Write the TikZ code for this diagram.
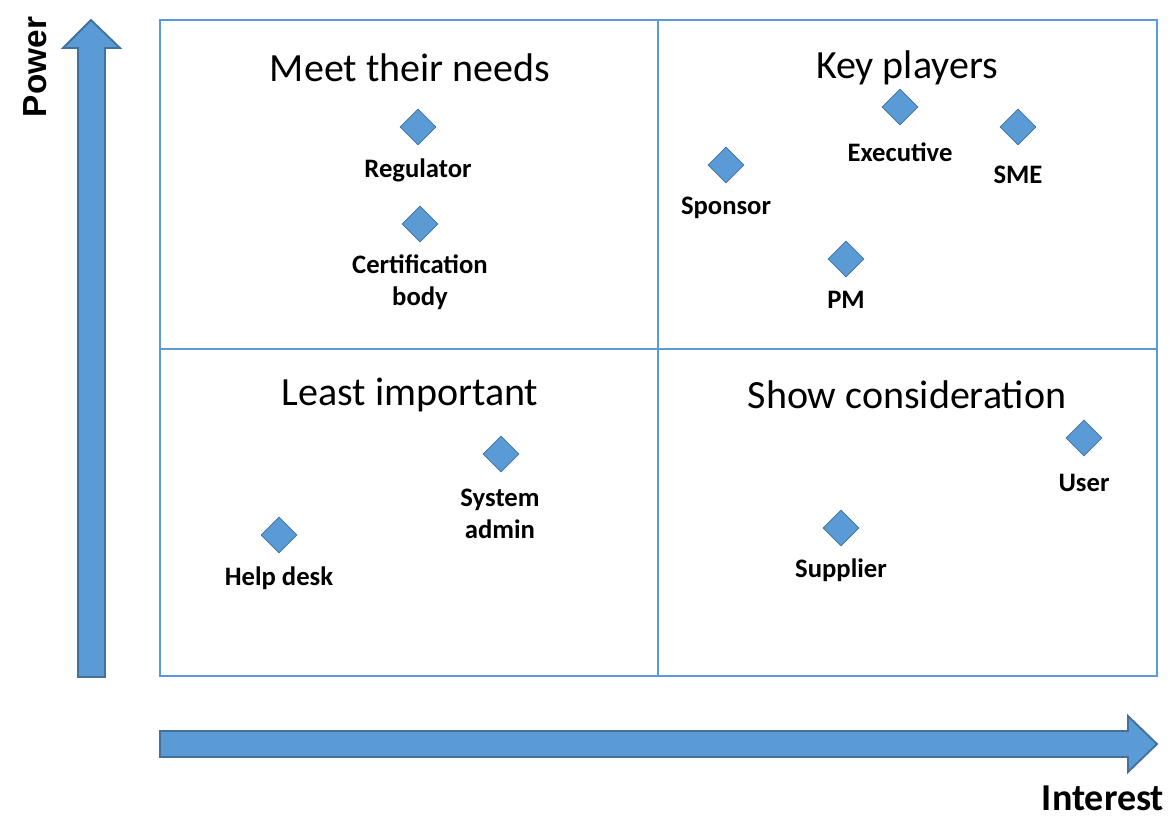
\documentclass[tikz,border=0pt]{standalone}
\usepackage{fontspec}
\setmainfont{Carlito}
\newfontfamily\arialfont{Liberation Sans}
\usetikzlibrary{shapes.geometric}
\definecolor{gridblue}{HTML}{5B9BD5}
\definecolor{fillblue}{HTML}{5B9BD5}
\definecolor{edgeblue}{HTML}{41719C}
\tikzset{
  quadline/.style={draw=gridblue, line width=1.6pt},
  bigarrow/.style={fill=fillblue, draw=edgeblue, line width=1.4pt, line join=miter},
  gem/.style={diamond, fill=fillblue, draw=edgeblue, line width=0.5pt, minimum width=27pt, minimum height=27pt, inner sep=0pt},
  gemlabel/.style={font=\fontsize{20}{24}\selectfont\bfseries, align=center, inner sep=0pt},
  quadtitle/.style={font=\fontsize{30}{35}\selectfont, inner sep=0pt},
}
\begin{document}
\begin{tikzpicture}[x=0.75pt, y=-0.75pt]
\useasboundingbox (0,0) rectangle (1176,819);
% axes arrows
\draw[bigarrow] (78,677) -- (78,48) -- (63,48) -- (91,20) -- (120,48) -- (105,48) -- (105,677) -- cycle;
\draw[bigarrow] (160,731) -- (1128,731) -- (1128,716) -- (1157,744) -- (1128,772) -- (1128,757) -- (160,757) -- cycle;
\node[font=\arialfont\fontsize{25}{28}\selectfont\bfseries, rotate=90, inner sep=0pt] (power) at (35,67) {Power};
\node[font=\fontsize{28.5}{32}\selectfont\bfseries, inner sep=0pt] (interest) at (1103,798) {Interest};
% grid
\draw[quadline] (160,20) rectangle (1157,676);
\draw[quadline] (658,20) -- (658,676);
\draw[quadline] (160,349) -- (1157,349);
% titles
\node[quadtitle] (t1) at (410,68) {Meet their needs};
\node[quadtitle] (t2) at (907,68) {Key players};
\node[quadtitle] (t3) at (410,395) {Least important};
\node[quadtitle] (t4) at (907,395) {Show consideration};
% stakeholders
\node[gem] (reg) at (418,127) {};
\node[gemlabel] (regl) at (418,170) {Regulator};
\node[gem] (cert) at (420,224) {};
\node[gemlabel] (certl) at (420,282) {Certification\\body};
\node[gem] (exe) at (900,107) {};
\node[gemlabel] (exel) at (900,152) {Executive};
\node[gem] (sme) at (1018,127) {};
\node[gemlabel] (smel) at (1018,175) {SME};
\node[gem] (spo) at (726,165) {};
\node[gemlabel] (spol) at (726,208) {Sponsor};
\node[gem] (pm) at (846,259) {};
\node[gemlabel] (pml) at (846,300) {PM};
\node[gem] (sys) at (501,454) {};
\node[gemlabel] (sysl) at (500,514) {System\\admin};
\node[gem] (help) at (279,535) {};
\node[gemlabel] (helpl) at (279,578) {Help desk};
\node[gem] (user) at (1084,438) {};
\node[gemlabel] (userl) at (1084,483) {User};
\node[gem] (sup) at (841,528) {};
\node[gemlabel] (supl) at (841,570) {Supplier};
\end{tikzpicture}
\end{document}
